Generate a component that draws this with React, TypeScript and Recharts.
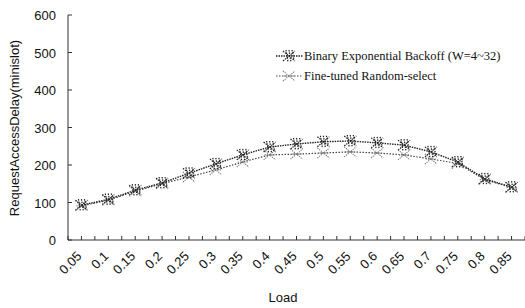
import React from "react";
import { LineChart, Line, XAxis, YAxis } from "recharts";

const loads = [0.05, 0.1, 0.15, 0.2, 0.25, 0.3, 0.35, 0.4, 0.45, 0.5, 0.55, 0.6, 0.65, 0.7, 0.75, 0.8, 0.85];
const binaryBackoff = [93, 108, 133, 152, 178, 203, 227, 248, 256, 262, 264, 259, 253, 235, 208, 163, 141];
const fineTuned = [91, 106, 130, 150, 168, 187, 208, 227, 229, 232, 235, 232, 227, 216, 204, 161, 140];
const yTicks = [0, 100, 200, 300, 400, 500, 600];
// minor ticks sit halfway between the loads
const xTicks = [0.025, 0.05, 0.075, 0.1, 0.125, 0.15, 0.175, 0.2, 0.225, 0.25, 0.275, 0.3, 0.325, 0.35, 0.375, 0.4, 0.425, 0.45, 0.475, 0.5, 0.525, 0.55, 0.575, 0.6, 0.625, 0.65, 0.675, 0.7, 0.725, 0.75, 0.775, 0.8, 0.825, 0.85, 0.875];

const data = loads.map((l, i) => ({
  load: l,
  binary: binaryBackoff[i],
  fine: fineTuned[i],
}));

const sans = "'Liberation Sans', Arial, sans-serif";
const serif = "'Liberation Serif', 'Times New Roman', serif";

function BinaryDot({ cx, cy }: { cx?: number; cy?: number }) {
  if (cx == null || cy == null) return null;
  return (
    <g stroke="#222" strokeWidth={1.2} strokeDasharray="1.5 1">
      <line x1={cx - 6} y1={cy - 5} x2={cx + 6} y2={cy + 5} />
      <line x1={cx - 6} y1={cy + 5} x2={cx + 6} y2={cy - 5} />
      <line x1={cx - 3} y1={cy - 6} x2={cx - 1} y2={cy + 6} />
      <line x1={cx} y1={cy - 6} x2={cx + 2} y2={cy + 6} />
      <line x1={cx + 3} y1={cy - 6} x2={cx + 5} y2={cy + 4} />
    </g>
  );
}

function FineDot({ cx, cy }: { cx?: number; cy?: number }) {
  if (cx == null || cy == null) return null;
  return (
    <g stroke="#777" strokeWidth={1.1} strokeDasharray="1.2 1">
      <line x1={cx - 6} y1={cy - 5} x2={cx + 6} y2={cy + 5} />
      <line x1={cx - 6} y1={cy + 5} x2={cx + 6} y2={cy - 5} />
      <line x1={cx - 5} y1={cy} x2={cx + 5} y2={cy} />
    </g>
  );
}

function XTick({ x, y, payload }: any) {
  const v = payload.value;
  const major = loads.some((l) => Math.abs(l - v) < 1e-6);
  return (
    <g>
      <line x1={x} y1={y} x2={x} y2={y - 4} stroke="#333" />
      {major && (
        <text
          x={x + 1}
          y={y + 17}
          transform={`rotate(-45 ${x + 1} ${y + 17})`}
          textAnchor="end"
          fontFamily={sans}
          fontSize={13}
          fill="#111"
        >
          {String(v)}
        </text>
      )}
    </g>
  );
}

function YTick({ x, y, payload }: any) {
  return (
    <g>
      <line x1={x} y1={y} x2={x + 4} y2={y} stroke="#333" />
      <text x={x - 12} y={y + 5} textAnchor="end" fontFamily={sans} fontSize={13} fill="#111">
        {payload.value}
      </text>
    </g>
  );
}

export default function App() {
  return (
    <div style={{ position: "absolute", left: 0, top: 0, width: 525, height: 308, background: "#fff" }}>
      <LineChart
        width={525}
        height={308}
        data={data}
        margin={{ top: 15, right: 0, bottom: 38, left: 0 }}
      >
        <XAxis
          dataKey="load"
          type="number"
          domain={[0.025, 0.875]}
          ticks={xTicks}
          interval={0}
          tick={<XTick />}
          tickLine={false}
          tickSize={0}
          tickMargin={0}
          height={30}
          stroke="#333"
        />
        <YAxis
          domain={[0, 600]}
          ticks={yTicks}
          width={68}
          tick={<YTick />}
          tickLine={false}
          tickSize={0}
          tickMargin={0}
          stroke="#333"
        />
        <Line
          dataKey="fine"
          stroke="#444"
          strokeWidth={1.2}
          strokeDasharray="1.5 1.5"
          dot={<FineDot />}
          isAnimationActive={false}
        />
        <Line
          dataKey="binary"
          stroke="#222"
          strokeWidth={1.4}
          strokeDasharray="1.5 1"
          dot={<BinaryDot />}
          isAnimationActive={false}
        />
      </LineChart>

      {/* legend */}
      <div style={{ position: "absolute", left: 276, top: 46, fontFamily: serif, fontSize: 12.5, color: "#111", lineHeight: "20px" }}>
        <div style={{ display: "flex", alignItems: "center" }}>
          <svg width={27} height={14}>
            <line x1={0} y1={7} x2={27} y2={7} stroke="#222" strokeWidth={1.4} strokeDasharray="1.5 1" />
            <BinaryDot cx={13} cy={7} />
          </svg>
          <span style={{ marginLeft: 1 }}>Binary Exponential Backoff (W=4~32)</span>
        </div>
        <div style={{ display: "flex", alignItems: "center" }}>
          <svg width={27} height={14}>
            <line x1={0} y1={7} x2={27} y2={7} stroke="#444" strokeWidth={1.2} strokeDasharray="1.5 1.5" />
            <FineDot cx={13} cy={7} />
          </svg>
          <span style={{ marginLeft: 1 }}>Fine-tuned Random-select</span>
        </div>
      </div>

      {/* axis titles */}
      <div
        style={{
          position: "absolute",
          left: 14,
          top: 128,
          transform: "translate(-50%, -50%) rotate(-90deg)",
          whiteSpace: "nowrap",
          fontFamily: sans,
          fontSize: 13,
          color: "#111",
        }}
      >
        RequestAccessDelay(minislot)
      </div>
      <div
        style={{
          position: "absolute",
          left: 283,
          top: 297,
          transform: "translate(-50%, -50%)",
          fontFamily: sans,
          fontSize: 13,
          color: "#111",
        }}
      >
        Load
      </div>
    </div>
  );
}
